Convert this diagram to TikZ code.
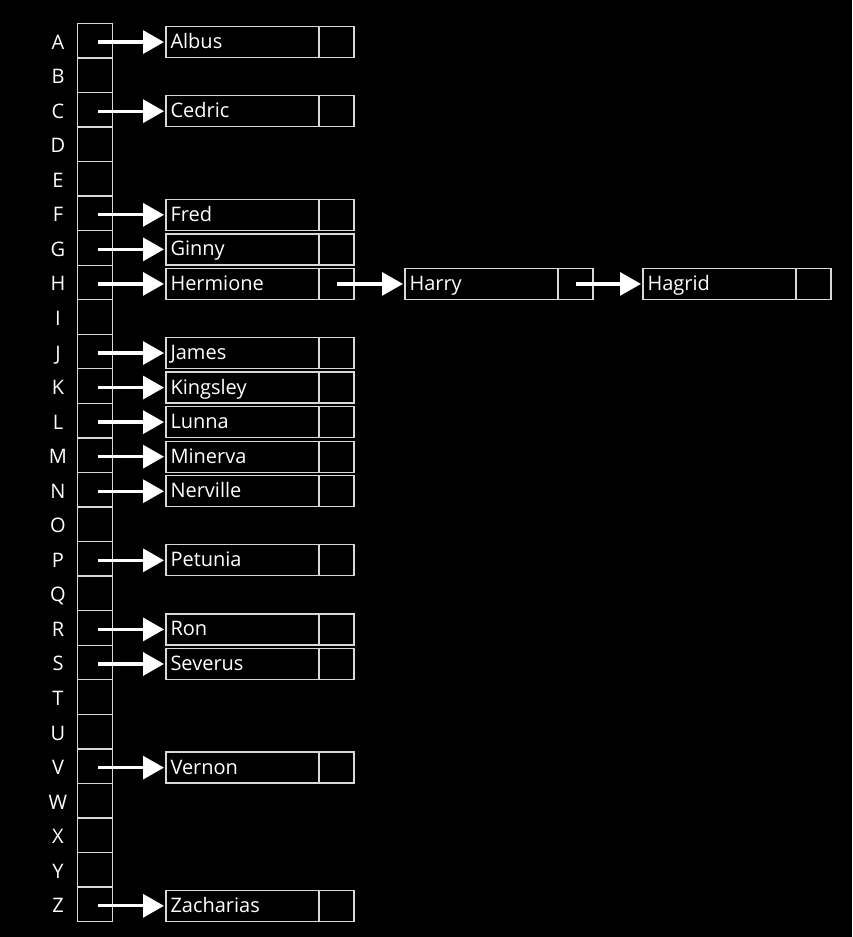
\documentclass[tikz,border=0pt]{standalone}
\usepackage{fontspec}
\setmainfont{Open Sans}
\usetikzlibrary{positioning,arrows.meta}
\definecolor{boxgrey}{HTML}{D8D8D8}
\tikzset{
  cell/.style={draw=boxgrey, line width=1.3pt, minimum width=35pt, minimum height=34.55pt, inner sep=0pt, outer sep=0pt},
  lettr/.style={text=white, font=\fontsize{20}{24}\selectfont, inner sep=0pt, text height=14pt, text depth=0pt},
  namebox/.style={draw=boxgrey, line width=1.3pt, text=white, font=\fontsize{20}{24}\selectfont,
    text width=144pt, align=left, inner xsep=4.5pt, inner ysep=0pt, minimum height=31pt, outer sep=0pt,
    text height=14pt, text depth=1pt},
  ptrbox/.style={draw=boxgrey, line width=1.3pt, minimum width=35pt, minimum height=31pt, inner sep=0pt, outer sep=0pt},
  link/.style={white, line width=3.3pt, -{Triangle[length=21pt,width=23pt]}}
}
\begin{document}
\begin{tikzpicture}[x=1pt,y=-1pt]
    \fill[black] (0,0) rectangle (852,937);
    \useasboundingbox (0,0) rectangle (852,937);
    % the table of letters
    \foreach \l [count=\i] in {A,...,Z} {
      \node[cell] (cell-\l) at (95,{23.3+34.55*(\i-0.5)}) {};
      \node[lettr] at ([xshift=-37pt,yshift=-1.5pt]cell-\l.center) {\l};
    }
    % first name in each list
    \foreach \l/\nm in {A/Albus,C/Cedric,F/Fred,G/Ginny,H/Hermione,J/James,K/Kingsley,L/Lunna,
                        M/Minerva,N/Nerville,P/Petunia,R/Ron,S/Severus,V/Vernon,Z/Zacharias} {
      \node[namebox, right=53.5pt of cell-\l, yshift=-1.5pt] (nm-\l) {\nm};
      \node[ptrbox, right=0pt of nm-\l] (ptr-\l) {};
      \draw[link] ([xshift=3pt]cell-\l.center |- nm-\l.west) -- ([xshift=-2pt]nm-\l.west);
    }
    % the chain behind H
    \node[namebox, right=51pt of ptr-H] (nm-Harry) {Harry};
    \node[ptrbox, right=0pt of nm-Harry] (ptr-Harry) {};
    \draw[link] (ptr-H.center) -- ([xshift=-2pt]nm-Harry.west);
    \node[namebox, right=50pt of ptr-Harry] (nm-Hagrid) {Hagrid};
    \node[ptrbox, right=0pt of nm-Hagrid] (ptr-Hagrid) {};
    \draw[link] (ptr-Harry.center) -- ([xshift=-2pt]nm-Hagrid.west);
\end{tikzpicture}
\end{document}
